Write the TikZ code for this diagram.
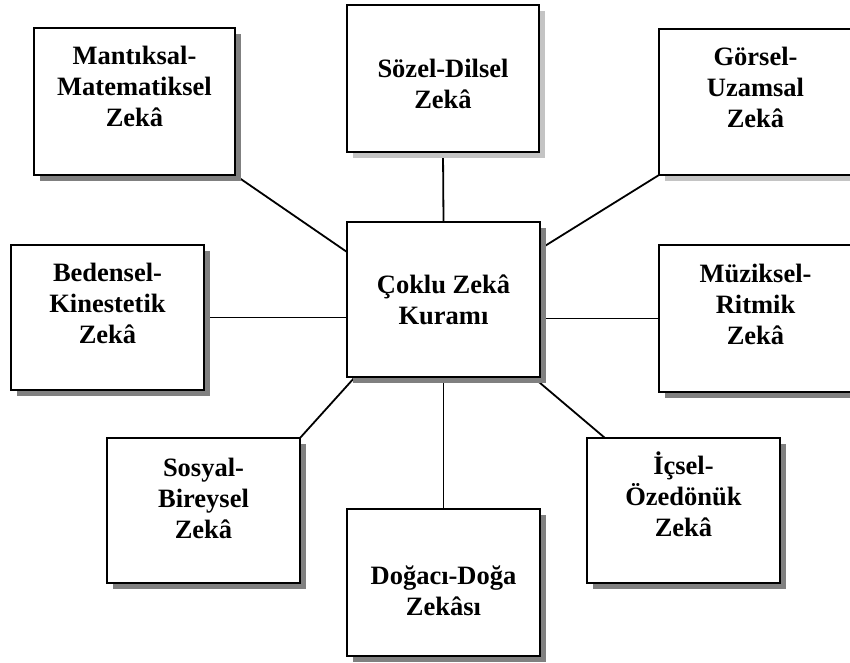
\documentclass[tikz,border=0pt]{standalone}
\usepackage{fontspec}
\setmainfont{Liberation Serif}
\usetikzlibrary{shadows,backgrounds}

\definecolor{shadowdark}{HTML}{808080}
\definecolor{shadowlight}{HTML}{C4C4C4}

% box text: height, width, first-baseline gap, lines
\newcommand\zekatext[4]{%
  \parbox[c][#1][t]{#2}{\centering\bfseries\fontsize{26.5}{31}\selectfont
    \rule{0pt}{#3}#4}}

\tikzset{
  zbox/.style={draw=black, line width=2pt, fill=white, inner sep=0pt,
    outer sep=0pt, rectangle},
  darkshadow/.style={drop shadow={shadow xshift=6pt, shadow yshift=-6pt,
    fill=shadowdark, opacity=1}},
  lightshadow/.style={drop shadow={shadow xshift=6pt, shadow yshift=-6pt,
    fill=shadowlight, opacity=1}},
  link/.style={draw=black, line width=1.8pt}
}

\begin{document}
\begin{tikzpicture}[x=1pt, y=-1pt]
  \useasboundingbox (0,0) rectangle (850,662);
  \clip (0,0) rectangle (850,662);

  % central box
  \node[zbox, darkshadow, minimum width=193pt, minimum height=155pt] (cen) at (443.5,299.5)
    {\zekatext{155pt}{193pt}{71pt}{Çoklu Zekâ\\Kuramı}};

  % surrounding intelligences
  \node[zbox, darkshadow, minimum width=201pt, minimum height=147pt] (man) at (134.5,101.5)
    {\zekatext{147pt}{201pt}{36pt}{Mantıksal-\\Matematiksel\\Zekâ}};
  \node[zbox, lightshadow, minimum width=192pt, minimum height=147pt] (soz) at (443,78.5)
    {\zekatext{147pt}{192pt}{72pt}{Sözel-Dilsel\\Zekâ}};
  \node[zbox, lightshadow, minimum width=193pt, minimum height=146pt] (gor) at (755.5,102)
    {\zekatext{146pt}{193pt}{36pt}{Görsel-\\Uzamsal\\Zekâ}};
  \node[zbox, darkshadow, minimum width=193pt, minimum height=145pt] (bed) at (107.5,317.5)
    {\zekatext{145pt}{193pt}{36pt}{Bedensel-\\Kinestetik\\Zekâ}};
  \node[zbox, darkshadow, minimum width=193pt, minimum height=147pt] (muz) at (755.5,318.5)
    {\zekatext{147pt}{193pt}{37pt}{Müziksel-\\Ritmik\\Zekâ}};
  \node[zbox, darkshadow, minimum width=193pt, minimum height=145pt] (sos) at (203.5,510.5)
    {\zekatext{145pt}{193pt}{38pt}{Sosyal-\\Bireysel\\Zekâ}};
  \node[zbox, darkshadow, minimum width=193pt, minimum height=147pt] (dog) at (443.5,582.5)
    {\zekatext{147pt}{193pt}{75pt}{Doğacı-Doğa\\Zekâsı}};
  \node[zbox, darkshadow, minimum width=193pt, minimum height=145pt] (ics) at (683.5,510.5)
    {\zekatext{145pt}{193pt}{36pt}{İçsel-\\Özedönük\\Zekâ}};

  % connectors behind the boxes
  \begin{scope}[on background layer]
    \draw[link] (man.south east) -- ([yshift=-30pt]cen.north west);
    \draw[link] (soz.south) -- (cen.north);
    \draw[link] (gor.south west) -- ([yshift=-27pt]cen.north east);
    \draw[link] (bed.east) -- (bed.east -| cen.west);
    \draw[link] (muz.west) -- (muz.west -| cen.east);
    \draw[link] (sos.north east) -- ([xshift=8pt]cen.south west);
    \draw[link] (dog.north) -- (cen.south);
    \draw[link] ([xshift=18pt]ics.north west) -- ([xshift=-7pt]cen.south east);
  \end{scope}
\end{tikzpicture}
\end{document}
